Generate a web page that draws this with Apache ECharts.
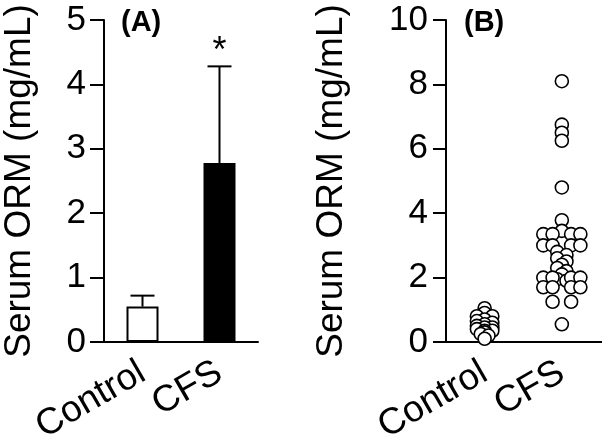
<!DOCTYPE html>
<html><head><meta charset="utf-8">
<script src="https://cdn.jsdelivr.net/npm/echarts@6/dist/echarts.min.js"></script>
<style>html,body{margin:0;padding:0;background:#fff}#c{width:602px;height:437px}</style>
</head><body><div id="c"></div>
<script>
const categories = ['Control', 'CFS'];
const meanA = [0.55, 2.78];
const sdA = [0.17, 1.50];
const yTicksA = [0, 1, 2, 3, 4, 5];
const yTicksB = [0, 2, 4, 6, 8, 10];
const controlVals =   [1.05, 0.9, 0.8, 0.8, 0.7, 0.65, 0.6, 0.55, 0.5, 0.45, 0.45, 0.4, 0.35, 0.35, 0.3, 0.25, 0.2, 0.1];
const controlJitter = [0, 0, -0.1, 0.1, 0, -0.1, 0.1, 0, -0.1, 0.1, 0, -0.1, 0.1, 0, 0, -0.05, 0.05, 0];
const cfsVals =   [8.1, 6.75, 6.5, 6.25, 4.8, 3.78, 3.45,
                   3.35, 3.35, 3.35, 3.35, 3.0, 3.0, 3.0, 3.0,
                   2.8, 2.7, 2.6, 2.5, 2.4, 2.3, 2.2, 2.1, 1.95, 1.9,
                   2.0, 2.0, 2.0, 2.0, 1.7, 1.7, 1.7, 1.7, 1.25, 1.25, 0.55];
const cfsJitter = [0, 0, 0, 0, 0, 0, 0,
                   -0.24, -0.12, 0.12, 0.24, -0.24, -0.12, 0.12, 0.24,
                   -0.06, 0.06, -0.06, 0.06, 0, -0.06, 0.06, 0, -0.06, 0.06,
                   -0.24, -0.12, 0.12, 0.24, -0.24, -0.12, 0.12, 0.24, -0.12, 0.12, 0];

const FONT = 'Liberation Sans';
const chart = echarts.init(document.getElementById('c'));
const axisLine = {show: true, onZero: false, lineStyle: {color: '#000', width: 2}};
const yLabel = {color: '#000', fontSize: 35, fontFamily: FONT, margin: 18};
const yName = 'Serum ORM (mg/mL)';
const nameStyle = {color: '#000', fontSize: 37, fontFamily: FONT};
const xLabel = {color: '#000', fontSize: 37, fontFamily: FONT, rotate: 30, margin: 28, interval: 0};

chart.setOption({
  animation: false,
  grid: [
    {left: 104, top: 20, width: 154, height: 322, containLabel: false, outerBoundsMode: 'none'},
    {left: 446, top: 20, width: 156, height: 322, containLabel: false, outerBoundsMode: 'none'}
  ],
  title: [
    {text: '(A)', left: 116, top: 3, textStyle: {fontSize: 29, fontWeight: 'bold', fontFamily: FONT, color: '#000'}},
    {text: '(B)', left: 459, top: 3, textStyle: {fontSize: 29, fontWeight: 'bold', fontFamily: FONT, color: '#000'}}
  ],
  xAxis: [
    {type: 'category', gridIndex: 0, data: categories, axisLine: axisLine, axisTick: {show: false}, axisLabel: xLabel},
    {type: 'value', gridIndex: 1, min: -0.5, max: 1.52, axisLine: axisLine, axisTick: {show: false}, splitLine: {show: false},
     axisLabel: Object.assign({}, xLabel, {customValues: [0, 1], formatter: v => categories[Math.round(v)]})}
  ],
  yAxis: [
    {type: 'value', gridIndex: 0, min: 0, max: 5, interval: 1, axisLine: axisLine,
     axisTick: {show: true, length: 14, lineStyle: {color: '#000', width: 2}}, splitLine: {show: false},
     axisLabel: yLabel, name: yName, nameLocation: 'middle', nameGap: 66, nameTextStyle: nameStyle},
    {type: 'value', gridIndex: 1, min: 0, max: 10, interval: 2, axisLine: axisLine,
     axisTick: {show: true, length: 13, lineStyle: {color: '#000', width: 2}}, splitLine: {show: false},
     axisLabel: yLabel, name: yName, nameLocation: 'middle', nameGap: 96, nameTextStyle: nameStyle}
  ],
  series: [
    {type: 'bar', xAxisIndex: 0, yAxisIndex: 0, barWidth: 32, z: 3,
     data: meanA.map((v, i) => ({value: v, itemStyle: {color: i === 0 ? '#fff' : '#000', borderColor: '#000', borderWidth: 2}}))},
    {type: 'custom', xAxisIndex: 0, yAxisIndex: 0, z: 2,
     data: meanA.map((v, i) => [i, v, v + sdA[i]]),
     renderItem: function (params, api) {
       const p0 = api.coord([api.value(0), api.value(1)]);
       const p1 = api.coord([api.value(0), api.value(2)]);
       const hw = 12;
       const children = [
         {type: 'line', shape: {x1: p0[0], y1: p0[1], x2: p1[0], y2: p1[1]}, style: {stroke: '#000', lineWidth: 2}},
         {type: 'line', shape: {x1: p1[0] - hw, y1: p1[1], x2: p1[0] + hw, y2: p1[1]}, style: {stroke: '#000', lineWidth: 2}}
       ];
       if (params.dataIndex === 1) {
         children.push({type: 'text', x: p1[0], y: p1[1] + 4, style: {text: '*', fontSize: 36, fontFamily: FONT, fill: '#000', align: 'center', verticalAlign: 'bottom'}});
       }
       return {type: 'group', children: children};
     }},
    {type: 'scatter', xAxisIndex: 1, yAxisIndex: 1, symbol: 'circle', symbolSize: 13,
     itemStyle: {color: '#fff', borderColor: '#000', borderWidth: 1.6, opacity: 1},
     data: controlVals.map((v, i) => [0 + controlJitter[i], v])},
    {type: 'scatter', xAxisIndex: 1, yAxisIndex: 1, symbol: 'circle', symbolSize: 13,
     itemStyle: {color: '#fff', borderColor: '#000', borderWidth: 1.6, opacity: 1},
     data: cfsVals.map((v, i) => [1 + cfsJitter[i], v])}
  ]
});
</script>
</body></html>
